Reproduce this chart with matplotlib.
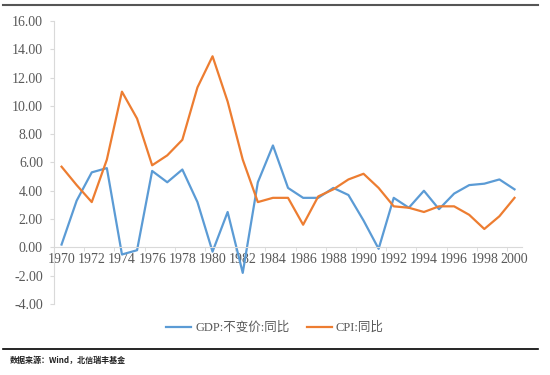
import numpy as np
import matplotlib
matplotlib.use('Agg')
import matplotlib.pyplot as plt
from matplotlib.lines import Line2D
from matplotlib.ticker import FixedLocator

plt.rcParams['font.family'] = ['Liberation Serif', 'Noto Sans CJK SC', 'DejaVu Sans']

years = list(range(1970, 2001))
gdp = [0.2, 3.3, 5.3, 5.6, -0.5, -0.2, 5.4, 4.6, 5.5, 3.2,
       -0.3, 2.5, -1.8, 4.6, 7.2, 4.2, 3.5, 3.5, 4.2, 3.7,
       1.9, -0.1, 3.5, 2.8, 4.0, 2.7, 3.8, 4.4, 4.5, 4.8, 4.1]
cpi = [5.7, 4.4, 3.2, 6.2, 11.0, 9.1, 5.8, 6.5, 7.6, 11.3,
       13.5, 10.3, 6.2, 3.2, 3.5, 3.5, 1.6, 3.6, 4.1, 4.8,
       5.2, 4.2, 2.9, 2.8, 2.5, 2.9, 2.9, 2.3, 1.3, 2.2, 3.5]
labels = ['GDP:不变价:同比', 'CPI:同比']
yticks = [-4, -2, 0, 2, 4, 6, 8, 10, 12, 14, 16]

BLUE = '#5B9BD5'
ORANGE = '#ED7D31'
GRAY = '#595959'
AXIS = '#D9D9D9'

fig = plt.figure(figsize=(5.5, 3.75), dpi=100)
ax = fig.add_axes([0.0982, 0.1893, 0.851, 0.755])

x = np.arange(len(years))
ax.plot(x, gdp, color=BLUE, lw=1.6, label=labels[0])
ax.plot(x, cpi, color=ORANGE, lw=1.6, label=labels[1])

ax.set_xlim(-0.5, len(years) - 0.5)
ax.set_ylim(-4, 16)
ax.set_yticks(yticks)
ax.set_yticklabels([f'{v:.2f}' for v in yticks])

ax.set_xticks(x[::2])
ax.set_xticklabels([str(y) for y in years[::2]])
ax.xaxis.set_minor_locator(FixedLocator(np.arange(-0.5, len(years), 2)))

for s in ['top', 'right']:
    ax.spines[s].set_visible(False)
ax.spines['bottom'].set_position(('data', 0))
ax.spines['bottom'].set_color(AXIS)
ax.spines['left'].set_color(AXIS)

ax.tick_params(axis='x', which='major', length=0, pad=4, labelsize=10, labelcolor=GRAY)
ax.tick_params(axis='x', which='minor', length=3, color=AXIS, direction='out')
ax.tick_params(axis='y', length=3, color=AXIS, pad=5, labelsize=10, labelcolor=GRAY)

leg = fig.legend(loc='center', bbox_to_anchor=(0.5, 0.1253), ncol=2, frameon=False,
                 fontsize=9, handlelength=2.0, columnspacing=1.4, handletextpad=0.3)
for t in leg.get_texts():
    t.set_color(GRAY)

# header / footer rules
fig.add_artist(Line2D([0.006, 0.978], [0.987, 0.987], color='#555555', lw=1.5))
fig.add_artist(Line2D([0.006, 0.978], [0.069, 0.069], color='black', lw=1.2))
fig.text(0.018, 0.040, '数据来源：Wind，北信瑞丰基金', fontsize=5.8, fontweight='bold',
         family=['Noto Sans CJK SC'], color='#222222', va='center')

fig.savefig('out.png', dpi=100)
